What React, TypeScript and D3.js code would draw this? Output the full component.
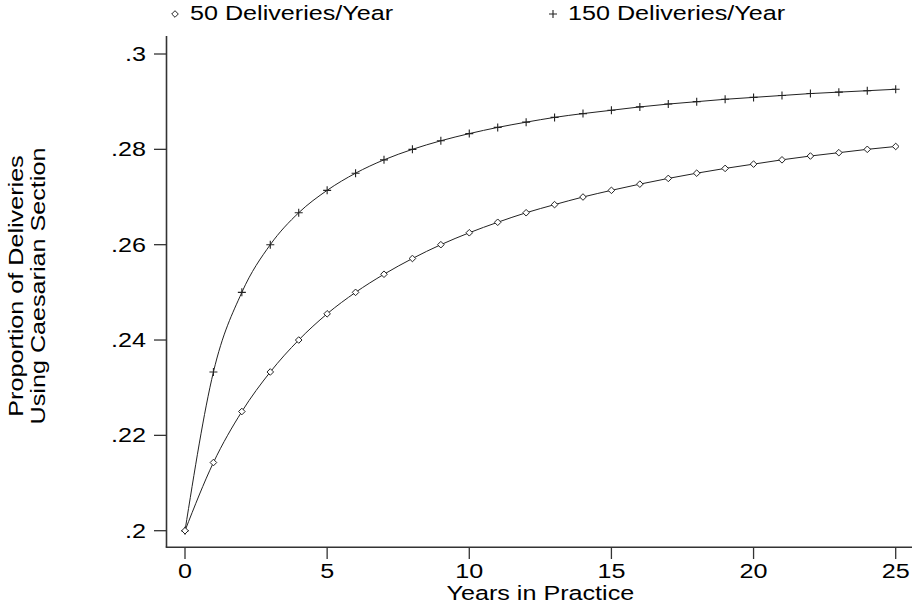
import React from "react";
import * as d3 from "d3";

// Years in practice (x) and fitted caesarian proportions for two practice volumes
const years = [0, 1, 2, 3, 4, 5, 6, 7, 8, 9, 10, 11, 12, 13, 14, 15, 16, 17, 18, 19, 20, 21, 22, 23, 24, 25];
const deliveries50 = [
  0.2, 0.2143, 0.225, 0.2333, 0.24, 0.2455, 0.25, 0.2538, 0.2571, 0.26, 0.2625, 0.2647, 0.2667,
  0.2684, 0.27, 0.2714, 0.2727, 0.2739, 0.275, 0.276, 0.2769, 0.2778, 0.2786, 0.2793, 0.28, 0.2806,
];
const deliveries150 = [
  0.2, 0.2333, 0.25, 0.26, 0.2667, 0.2714, 0.275, 0.2778, 0.28, 0.2818, 0.2833, 0.2846, 0.2857,
  0.2867, 0.2875, 0.2882, 0.2889, 0.2895, 0.29, 0.2905, 0.2909, 0.2913, 0.2917, 0.292, 0.2923, 0.2926,
];
const xTicks = [0, 5, 10, 15, 20, 25];
const yTicks = [0.2, 0.22, 0.24, 0.26, 0.28, 0.3];
const yTickLabels = [".2", ".22", ".24", ".26", ".28", ".3"];
const legendLabels = ["50 Deliveries/Year", "150 Deliveries/Year"];
const xTitle = "Years in Practice";
const yTitleLines = ["Proportion of Deliveries", "Using Caesarian Section"];

const W = 912;
const H = 604;
const FONT = "'Liberation Sans', Arial, Helvetica, sans-serif";
const FS = 19.5;
const STRETCH = 1.29; // wide-set lettering
const INK = "#222";

const x = d3.scaleLinear().domain([0, 25]).range([185, 895.7]);
const y = d3.scaleLinear().domain([0.2, 0.3]).range([530.7, 54]);

const axisX = 166.5;
const axisY = 547.3;

const diamond = "M0,-3.3L3.3,0L0,3.3L-3.3,0Z";
const plus = "M-4,0H4M0,-4V4";

function Diamond({ cx, cy }: { cx: number; cy: number }) {
  return <path d={diamond} transform={`translate(${cx},${cy})`} fill="#fff" stroke={INK} strokeWidth={1} />;
}
function Plus({ cx, cy }: { cx: number; cy: number }) {
  return <path d={plus} transform={`translate(${cx},${cy})`} fill="none" stroke={INK} strokeWidth={1.1} />;
}

function Label({
  x: tx,
  y: ty,
  anchor = "start",
  rotate = 0,
  children,
}: {
  x: number;
  y: number;
  anchor?: "start" | "middle" | "end";
  rotate?: number;
  children: React.ReactNode;
}) {
  return (
    <text
      transform={`translate(${tx},${ty}) rotate(${rotate}) scale(${STRETCH},1)`}
      textAnchor={anchor}
      fontSize={FS}
      fill="#000"
    >
      {children}
    </text>
  );
}

export default function App() {
  const line = d3
    .line<number>()
    .x((_, i) => x(years[i]))
    .y((d) => y(d))
    .curve(d3.curveMonotoneX);

  return (
    <svg
      width={W}
      height={H}
      viewBox={`0 0 ${W} ${H}`}
      style={{ position: "absolute", left: 0, top: 0, background: "#fff" }}
      fontFamily={FONT}
    >
      <rect x={0} y={0} width={W} height={H} fill="#fff" />

      {/* legend */}
      <Diamond cx={175} cy={14} />
      <Label x={190} y={19.5}>{legendLabels[0]}</Label>
      <Plus cx={553} cy={14} />
      <Label x={568} y={19.5}>{legendLabels[1]}</Label>

      {/* axes */}
      <line x1={axisX} x2={axisX} y1={36} y2={axisY} stroke="#333" strokeWidth={1.6} />
      <line x1={axisX - 0.8} x2={W} y1={axisY} y2={axisY} stroke="#333" strokeWidth={1.6} />

      {yTicks.map((t, i) => (
        <g key={`y${i}`}>
          <line x1={154} x2={axisX} y1={y(t)} y2={y(t)} stroke="#333" strokeWidth={1.3} />
          <Label x={146} y={y(t) + 7} anchor="end">
            {yTickLabels[i]}
          </Label>
        </g>
      ))}
      {xTicks.map((t) => (
        <g key={`x${t}`}>
          <line x1={x(t)} x2={x(t)} y1={axisY} y2={559} stroke="#333" strokeWidth={1.3} />
          <Label x={x(t)} y={577.5} anchor="middle">
            {t}
          </Label>
        </g>
      ))}

      <Label x={(x(0) + x(25)) / 2} y={599.5} anchor="middle">
        {xTitle}
      </Label>
      <Label x={23} y={286} anchor="middle" rotate={-90}>
        {yTitleLines[0]}
      </Label>
      <Label x={45} y={286} anchor="middle" rotate={-90}>
        {yTitleLines[1]}
      </Label>

      {/* series */}
      <path d={line(deliveries150) ?? ""} fill="none" stroke={INK} strokeWidth={1} />
      <path d={line(deliveries50) ?? ""} fill="none" stroke={INK} strokeWidth={1} />
      {deliveries150.map((v, i) => (
        <Plus key={`p${i}`} cx={x(years[i])} cy={y(v)} />
      ))}
      {deliveries50.map((v, i) => (
        <Diamond key={`d${i}`} cx={x(years[i])} cy={y(v)} />
      ))}
    </svg>
  );
}
